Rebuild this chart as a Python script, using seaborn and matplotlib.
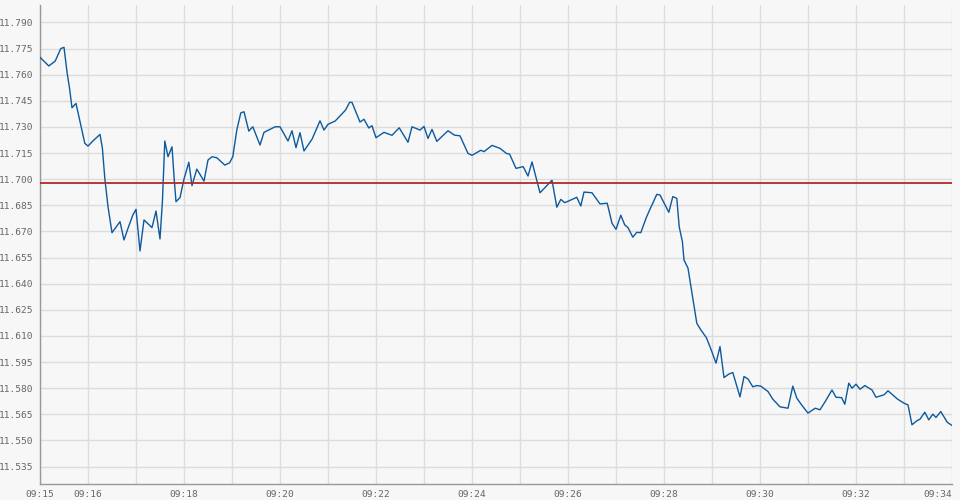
import pandas as pd
import matplotlib
matplotlib.use("Agg")
import matplotlib.pyplot as plt
import matplotlib.dates as mdates
import seaborn as sns

# --- Дані ---
seconds = [0, 11, 19, 26, 30, 34, 37, 40, 45, 51, 56, 60, 66, 75, 78, 81, 85, 90,
           100, 105, 110, 116, 120, 123, 125, 130, 140, 145, 148, 150, 153, 156,
           160, 165, 168, 170, 175, 180, 186, 190, 196, 205, 210, 215, 221, 231,
           237, 241, 246, 251, 255, 261, 266, 275, 280, 294, 300, 310, 315, 320,
           325, 330, 340, 350, 355, 360, 369, 382, 387, 390, 400, 405, 411, 415,
           420, 430, 440, 449, 460, 465, 475, 480, 485, 490, 496, 510, 518, 525,
           535, 540, 551, 555, 565, 575, 583, 587, 595, 604, 610, 615, 625, 640,
           646, 651, 656, 671, 676, 680, 690, 700, 709, 715, 720, 726, 731, 735,
           741, 746, 751, 758, 763, 766, 771, 775, 786, 791, 796, 799, 803, 805,
           810, 814, 818, 821, 826, 833, 839, 845, 850, 855, 861, 866, 875, 880,
           885, 891, 896, 901, 910, 916, 925, 935, 941, 946, 952, 960, 969, 975,
           982, 990, 995, 1002, 1006, 1011, 1015, 1020, 1025, 1031, 1040, 1045,
           1055, 1060, 1072, 1080, 1085, 1090, 1096, 1100, 1106, 1111, 1116, 1120,
           1126, 1134, 1140]
prices = [11.7700, 11.7650, 11.7678, 11.7750, 11.7757, 11.7607, 11.7520, 11.7410,
          11.7435, 11.7311, 11.7206, 11.7190, 11.7219, 11.7257, 11.7177, 11.7005,
          11.6842, 11.6693, 11.6756, 11.6651, 11.6718, 11.6794, 11.6827, 11.6680,
          11.6588, 11.6766, 11.6722, 11.6817, 11.6722, 11.6657, 11.6871, 11.7219,
          11.7129, 11.7186, 11.6985, 11.6871, 11.6894, 11.7001, 11.7097, 11.6963,
          11.7058, 11.6989, 11.7110, 11.7129, 11.7123, 11.7081, 11.7094, 11.7129,
          11.7282, 11.7381, 11.7387, 11.7276, 11.7301, 11.7196, 11.7269, 11.7301,
          11.7301, 11.7219, 11.7278, 11.7181, 11.7267, 11.7162, 11.7229, 11.7335,
          11.7282, 11.7315, 11.7334, 11.7397, 11.7441, 11.7441, 11.7328, 11.7344,
          11.7294, 11.7307, 11.7238, 11.7269, 11.7252, 11.7295, 11.7212, 11.7301,
          11.7282, 11.7303, 11.7234, 11.7286, 11.7217, 11.7278, 11.7253, 11.7249,
          11.7148, 11.7137, 11.7166, 11.7158, 11.7194, 11.7177, 11.7148, 11.7144,
          11.7062, 11.7072, 11.7018, 11.7099, 11.6922, 11.6994, 11.6839, 11.6884,
          11.6865, 11.6896, 11.6846, 11.6926, 11.6922, 11.6858, 11.6862, 11.6747,
          11.6712, 11.6793, 11.6737, 11.6722, 11.6667, 11.6695, 11.6693, 11.6781,
          11.6833, 11.6862, 11.6913, 11.6909, 11.6810, 11.6900, 11.6890, 11.6727,
          11.6641, 11.6536, 11.6489, 11.6374, 11.6259, 11.6173, 11.6135, 11.6090,
          11.6020, 11.5944, 11.6039, 11.5861, 11.5881, 11.5890, 11.5750, 11.5867,
          11.5853, 11.5808, 11.5815, 11.5812, 11.5781, 11.5737, 11.5693, 11.5685,
          11.5812, 11.5743, 11.5704, 11.5657, 11.5685, 11.5676, 11.5727, 11.5790,
          11.5748, 11.5746, 11.5708, 11.5829, 11.5800, 11.5823, 11.5794, 11.5815,
          11.5790, 11.5748, 11.5762, 11.5785, 11.5737, 11.5714, 11.5704, 11.5590,
          11.5613, 11.5622, 11.5662, 11.5618, 11.5651, 11.5632, 11.5666, 11.5605,
          11.5586]
ref_price = 11.698
y_ticks = [11.535, 11.550, 11.565, 11.580, 11.595, 11.610, 11.625, 11.640, 11.655,
           11.670, 11.685, 11.700, 11.715, 11.730, 11.745, 11.760, 11.775, 11.790]
x_labels = ["09:15", "09:16", "09:18", "09:20", "09:22", "09:24", "09:26",
            "09:28", "09:30", "09:32", "09:34"]

day = "2024-01-02 "
df = pd.DataFrame({
    "time": pd.Timestamp(day + "09:15:00") + pd.to_timedelta(seconds, unit="s"),
    "price": prices,
})

# --- Візуалізація ---
sns.set_style("white", {"axes.facecolor": "#f7f7f7"})
plt.rcParams["font.family"] = ["DejaVu Sans Mono", "DejaVu Sans"]

fig = plt.figure(figsize=(9.6, 5), dpi=100, facecolor="#f7f7f7")
ax = fig.add_axes([40 / 960, 16 / 500, 912 / 960, 479 / 500])

sns.lineplot(data=df, x="time", y="price", ax=ax, color="#0c5a9e",
             linewidth=1.0, zorder=3)
ax.axhline(ref_price, color="#b02a2a", linewidth=1.3, zorder=4)

ax.set_xlim(pd.Timestamp(day + "09:15"), pd.Timestamp(day + "09:34"))
ax.set_ylim(11.525, 11.800)

ax.set_yticks(y_ticks)
ax.set_yticklabels([f"{v:.3f}" for v in y_ticks])
ax.set_xticks([pd.Timestamp(day + t) for t in x_labels])
ax.set_xticklabels(x_labels)
ax.xaxis.set_minor_locator(mdates.MinuteLocator())

ax.grid(which="major", axis="y", color="#dcdcdc", linewidth=1)
ax.grid(which="both", axis="x", color="#dcdcdc", linewidth=1)
ax.tick_params(axis="both", which="major", colors="#999999", labelcolor="#666666",
               labelsize=6.8, length=3, width=1, pad=1.5, direction="out")
ax.tick_params(axis="x", which="minor", length=0)
ax.tick_params(axis="x", which="major", length=3, pad=1)

for side in ["top", "right"]:
    ax.spines[side].set_visible(False)
for side in ["left", "bottom"]:
    ax.spines[side].set_color("#999999")
    ax.spines[side].set_linewidth(1)

ax.set_xlabel("")
ax.set_ylabel("")
ax.get_xticklabels()[-1].set_horizontalalignment("right")

fig.savefig("out.png", dpi=100, facecolor="#f7f7f7")
plt.close(fig)
